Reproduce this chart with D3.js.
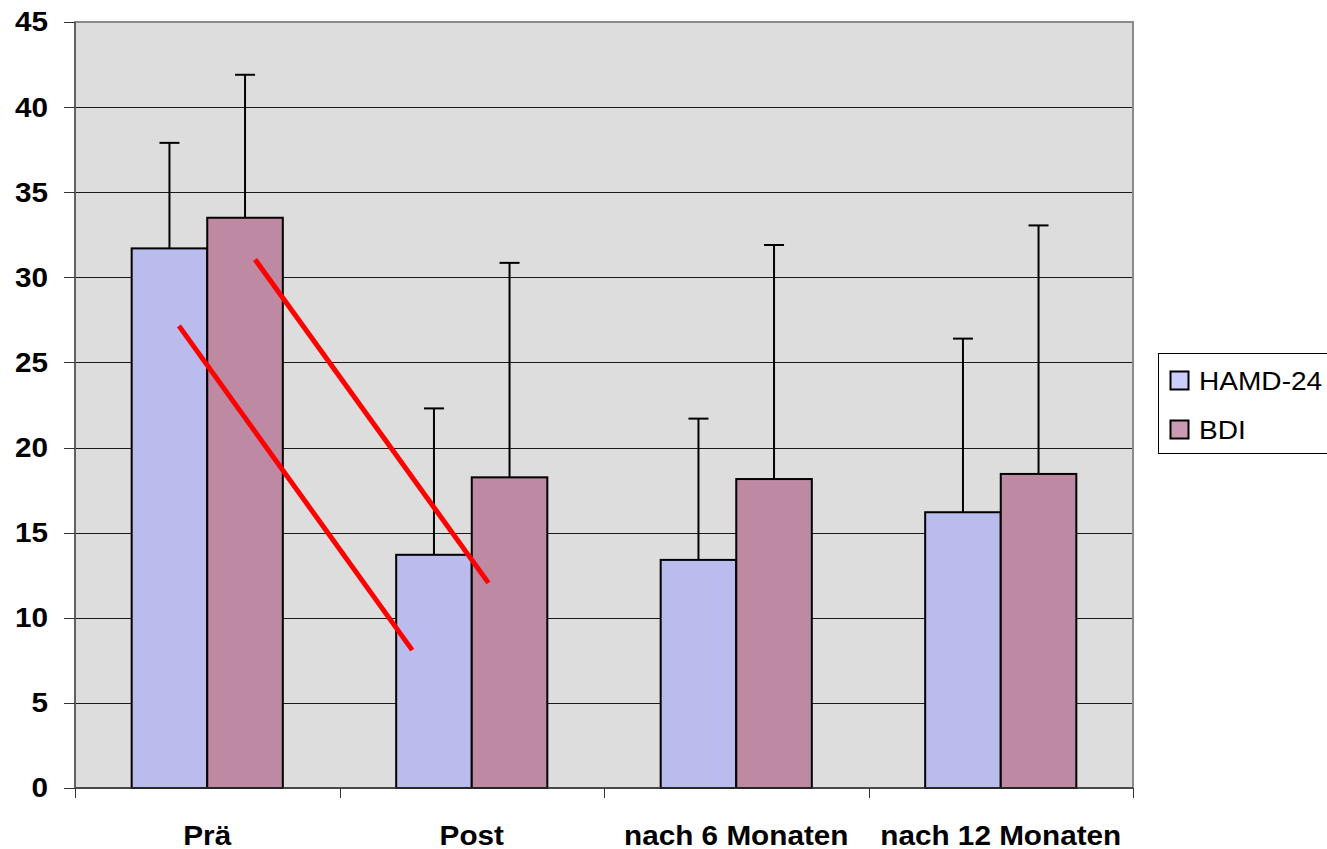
<!DOCTYPE html>
<html>
<head>
<meta charset="utf-8">
<script src="https://cdn.jsdelivr.net/npm/d3@7"></script>
<style>
  html, body { margin: 0; padding: 0; background: #fff; }
  svg { display: block; }
  text { font-family: "Liberation Sans", Arial, sans-serif; }
</style>
</head>
<body>
<svg id="chart" width="1327" height="849"></svg>
<script>
// ---- data ----
const categories = ["Prä", "Post", "nach 6 Monaten", "nach 12 Monaten"];
const seriesNames = ["HAMD-24", "BDI"];
const hamdValues = [31.7, 13.7, 13.4, 16.2];
const hamdErrors = [6.2, 8.6, 8.3, 10.2];
const bdiValues = [33.5, 18.25, 18.15, 18.45];
const bdiErrors = [8.4, 12.6, 13.75, 14.6];
const yTicks = [0, 5, 10, 15, 20, 25, 30, 35, 40, 45];
// red annotation lines: [category position (fractional index), value]
const redLine1 = [[0.393, 27.15], [1.275, 8.1]];
const redLine2 = [[0.681, 31.05], [1.563, 12.05]];

const barColors = ["#bbbcee", "#bd89a3"];
const legendColors = ["#ccccff", "#cc99b3"];

// ---- layout ----
const svg = d3.select("#chart");
const pLeft = 75, pRight = 1133, pTop = 22, pBottom = 788;

const x = d3.scaleBand().domain(categories).range([pLeft, pRight]).padding(0);
const x1 = d3.scaleBand().domain(seriesNames).range([0, x.bandwidth()])
  .paddingInner(0).paddingOuter(0.75);
const y = d3.scaleLinear().domain([0, 45]).range([pBottom, pTop]);
const xPos = d3.scaleLinear().domain([0, categories.length]).range([pLeft, pRight]);

// plot background
svg.append("rect")
  .attr("x", pLeft).attr("y", pTop)
  .attr("width", pRight - pLeft).attr("height", pBottom - pTop)
  .attr("fill", "#dddddd");

// gridlines
svg.append("g").selectAll("line")
  .data(yTicks.filter(d => d > 0 && d < 45))
  .join("line")
  .attr("x1", pLeft).attr("x2", pRight)
  .attr("y1", d => Math.round(y(d)) + 0.5).attr("y2", d => Math.round(y(d)) + 0.5)
  .attr("stroke", "#1a1a1a").attr("stroke-width", 1);

// border (gray)
svg.append("rect")
  .attr("x", pLeft).attr("y", pTop)
  .attr("width", pRight - pLeft).attr("height", pBottom - pTop)
  .attr("fill", "none").attr("stroke", "#8a8a8a").attr("stroke-width", 2);

const data = categories.map((c, i) => ({
  cat: c,
  vals: [
    { s: seriesNames[0], v: hamdValues[i], e: hamdErrors[i], k: 0 },
    { s: seriesNames[1], v: bdiValues[i], e: bdiErrors[i], k: 1 }
  ]
}));

// error bars (drawn behind bars)
const eg = svg.append("g");
data.forEach(d => {
  d.vals.forEach(b => {
    const cx = x(d.cat) + x1(b.s) + x1.bandwidth() / 2;
    eg.append("line")
      .attr("x1", cx).attr("x2", cx)
      .attr("y1", y(b.v)).attr("y2", y(b.v + b.e))
      .attr("stroke", "#000").attr("stroke-width", 2);
    eg.append("line")
      .attr("x1", cx - 10).attr("x2", cx + 10)
      .attr("y1", y(b.v + b.e)).attr("y2", y(b.v + b.e))
      .attr("stroke", "#000").attr("stroke-width", 2);
  });
});

// bars
const bg = svg.append("g");
data.forEach(d => {
  bg.selectAll(null).data(d.vals).join("rect")
    .attr("x", b => x(d.cat) + x1(b.s))
    .attr("y", b => y(b.v))
    .attr("width", x1.bandwidth())
    .attr("height", b => y(0) - y(b.v))
    .attr("fill", b => barColors[b.k])
    .attr("stroke", "#000").attr("stroke-width", 2);
});

// bottom axis line
svg.append("line")
  .attr("x1", pLeft).attr("x2", pRight)
  .attr("y1", pBottom).attr("y2", pBottom)
  .attr("stroke", "#333").attr("stroke-width", 1.5);
// left axis line
svg.append("line")
  .attr("x1", pLeft).attr("x2", pLeft)
  .attr("y1", pTop).attr("y2", pBottom)
  .attr("stroke", "#555").attr("stroke-width", 1.5);

// y ticks & labels
const yg = svg.append("g");
yg.selectAll("line").data(yTicks).join("line")
  .attr("x1", 64).attr("x2", pLeft)
  .attr("y1", d => Math.round(y(d)) + 0.5).attr("y2", d => Math.round(y(d)) + 0.5)
  .attr("stroke", "#333").attr("stroke-width", 1);
yg.selectAll("text").data(yTicks).join("text")
  .attr("transform", d => `translate(48,${y(d)}) scale(1.1,1)`)
  .attr("text-anchor", "end")
  .attr("dy", "0.35em")
  .attr("font-size", 27).attr("font-weight", "bold")
  .attr("fill", "#000")
  .text(d => d);

// x ticks & labels
const xg = svg.append("g");
const boundaries = d3.range(categories.length + 1);
xg.selectAll("line").data(boundaries).join("line")
  .attr("x1", d => Math.round(xPos(d)) + 0.5).attr("x2", d => Math.round(xPos(d)) + 0.5)
  .attr("y1", pBottom).attr("y2", pBottom + 10)
  .attr("stroke", "#333").attr("stroke-width", 1);
xg.selectAll("text").data(categories).join("text")
  .attr("transform", d => `translate(${x(d) + x.bandwidth() / 2},845) scale(1.1,1)`)
  .attr("text-anchor", "middle")
  .attr("font-size", 27).attr("font-weight", "bold")
  .attr("fill", "#000")
  .text(d => d);

// red annotation lines
[redLine1, redLine2].forEach(ln => {
  svg.append("line")
    .attr("x1", xPos(ln[0][0])).attr("y1", y(ln[0][1]))
    .attr("x2", xPos(ln[1][0])).attr("y2", y(ln[1][1]))
    .attr("stroke", "#ff0000").attr("stroke-width", 5);
});

// legend
const lg = svg.append("g");
lg.append("rect")
  .attr("x", 1158.5).attr("y", 353.5)
  .attr("width", 200).attr("height", 100)
  .attr("fill", "#fff").attr("stroke", "#000").attr("stroke-width", 1);
const legY = [381, 430];
seriesNames.forEach((s, i) => {
  lg.append("rect")
    .attr("x", 1170.5).attr("y", legY[i] - 9.5)
    .attr("width", 18).attr("height", 18)
    .attr("fill", legendColors[i]).attr("stroke", "#000").attr("stroke-width", 2);
  lg.append("text")
    .attr("transform", `translate(1199,${legY[i]}) scale(1.08,1)`)
    .attr("dy", "0.36em")
    .attr("font-size", 26)
    .attr("fill", "#000")
    .text(s);
});
</script>
</body>
</html>
